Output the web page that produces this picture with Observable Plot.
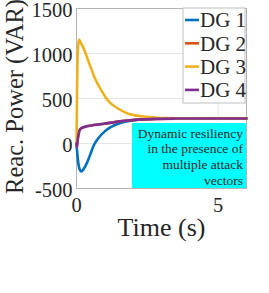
<!DOCTYPE html>
<html><head><meta charset="utf-8">
<script src="https://cdn.jsdelivr.net/npm/d3@7"></script>
<script src="https://cdn.jsdelivr.net/npm/@observablehq/plot@0.6"></script>
<style>
html,body{margin:0;padding:0;background:#fff;}
#chart{width:269px;height:293px;overflow:hidden;}
</style>
</head><body><div id="chart"></div>
<script>
const seriesNames = ["DG 1", "DG 2", "DG 3", "DG 4"];
const seriesColors = ["#0072BD", "#D95319", "#EDB120", "#7E2F8E"];
const xTicks = [0, 5];
const yTicks = [-500, 0, 500, 1000, 1500];
const noteLines = ["Dynamic resiliency", "in the presence of", "multiple attack", "vectors"];

const dg1T = [0, 0.04, 0.09, 0.17, 0.25, 0.38, 0.5, 0.61, 0.8, 0.97, 1.15, 1.32, 1.55, 1.8, 2.1, 2.5, 3, 3.5, 4, 5, 6];
const dg1V = [0, -150, -265, -310, -285, -207, -110, -20, 70, 126, 170, 200, 228, 248, 262, 272, 276, 278, 278, 278, 278];
const dg4T = [0, 0.01, 0.05, 0.1, 0.14, 0.25, 0.6, 0.97, 1.4, 1.8, 2.3, 2.8, 3.5, 4, 5, 6];
const dg4V = [0, -40, 60, 140, 163, 181, 205, 220, 240, 255, 268, 274, 277, 278, 278, 278];
const dg2T = dg4T;
const dg2V = [0, -40, 60, 140, 163, 181, 205, 220, 240, 255, 268, 274, 277, 278, 278, 278];
const dg3T = [0, 0.02, 0.05, 0.09, 0.15, 0.28, 0.45, 0.63, 0.87, 1.1, 1.46, 1.81, 2.28, 2.76, 3.2, 4, 5, 6];
const dg3V = [0, 600, 1050, 1156, 1120, 1037, 889, 740, 592, 481, 389, 333, 303, 289, 282, 279, 278, 278];

const seriesT = [dg1T, dg2T, dg3T, dg4T];
const seriesV = [dg1V, dg2V, dg3V, dg4V];
const data = [];
seriesNames.forEach((name, i) => {
  seriesT[i].forEach((t, j) => data.push({series: name, t, v: seriesV[i][j]}));
});

const font = "'Liberation Serif', 'Times New Roman', serif";
const W = 269, H = 293;
const mL = 76, mR = 23, mT = 8, mB = 105;

const plot = Plot.plot({
  width: W, height: H,
  marginLeft: mL, marginRight: mR, marginTop: mT, marginBottom: mB,
  style: {fontFamily: font, color: "#262626", background: "#fff", overflow: "visible"},
  x: {domain: [0, 6], ticks: xTicks},
  y: {domain: [-500, 1500], ticks: yTicks},
  color: {domain: seriesNames, range: seriesColors},
  marks: [
    Plot.gridX(xTicks, {stroke: "#e6e6e6", strokeOpacity: 1}),
    Plot.gridY(yTicks, {stroke: "#e6e6e6", strokeOpacity: 1}),
    Plot.frame({stroke: "#b3b3b3"}),
    Plot.axisX(xTicks, {tickSize: 0, tickPadding: 9, fontSize: 20.5, label: null, fill: "#262626", tickFormat: d => String(d)}),
    Plot.axisY(yTicks, {tickSize: 0, tickPadding: 4, fontSize: 20.5, dy: 2, label: null, fill: "#262626", tickFormat: d => String(d)}),
    Plot.line(data, {x: "t", y: "v", z: "series", stroke: "series", strokeWidth: 2.6, curve: "monotone-x"}),
    Plot.text(["Reac. Power (VAR)"], {frameAnchor: "left", textAnchor: "middle", dx: -61, dy: -2, rotate: -90, fontSize: 24.5, fill: "#262626", text: d => d}),
    Plot.text(["Time (s)"], {frameAnchor: "bottom", textAnchor: "middle", dy: 47, fontSize: 26, fill: "#262626", text: d => d})
  ]
});
document.getElementById("chart").appendChild(plot);

// overlays: annotation box and legend
const svg = d3.select(plot);
const note = svg.append("g").attr("text-anchor", "end");
note.append("rect").attr("x", 132).attr("y", 123).attr("width", 114).attr("height", 65).attr("fill", "#00FFFF");
noteLines.forEach((s, i) => {
  note.append("text").attr("x", 243).attr("y", 133 + i * 15.7).attr("dy", "0.35em")
    .attr("text-anchor", "end").attr("font-size", 13.5).attr("font-family", font).attr("fill", "#262626").text(s);
});
const leg = svg.append("g").attr("text-anchor", "start");
leg.append("rect").attr("x", 183).attr("y", 8).attr("width", 62).attr("height", 95)
  .attr("fill", "#fff").attr("stroke", "#bfbfbf").attr("stroke-width", 1);
seriesNames.forEach((s, i) => {
  const y = 20 + i * 23.3;
  leg.append("line").attr("x1", 185).attr("x2", 199).attr("y1", y).attr("y2", y)
    .attr("stroke", seriesColors[i]).attr("stroke-width", 2.6);
  leg.append("text").attr("x", 200).attr("y", y).attr("dy", "0.35em").attr("font-size", 21)
    .attr("text-anchor", "start").attr("font-family", font).attr("fill", "#262626").text(s);
});
</script></body></html>
